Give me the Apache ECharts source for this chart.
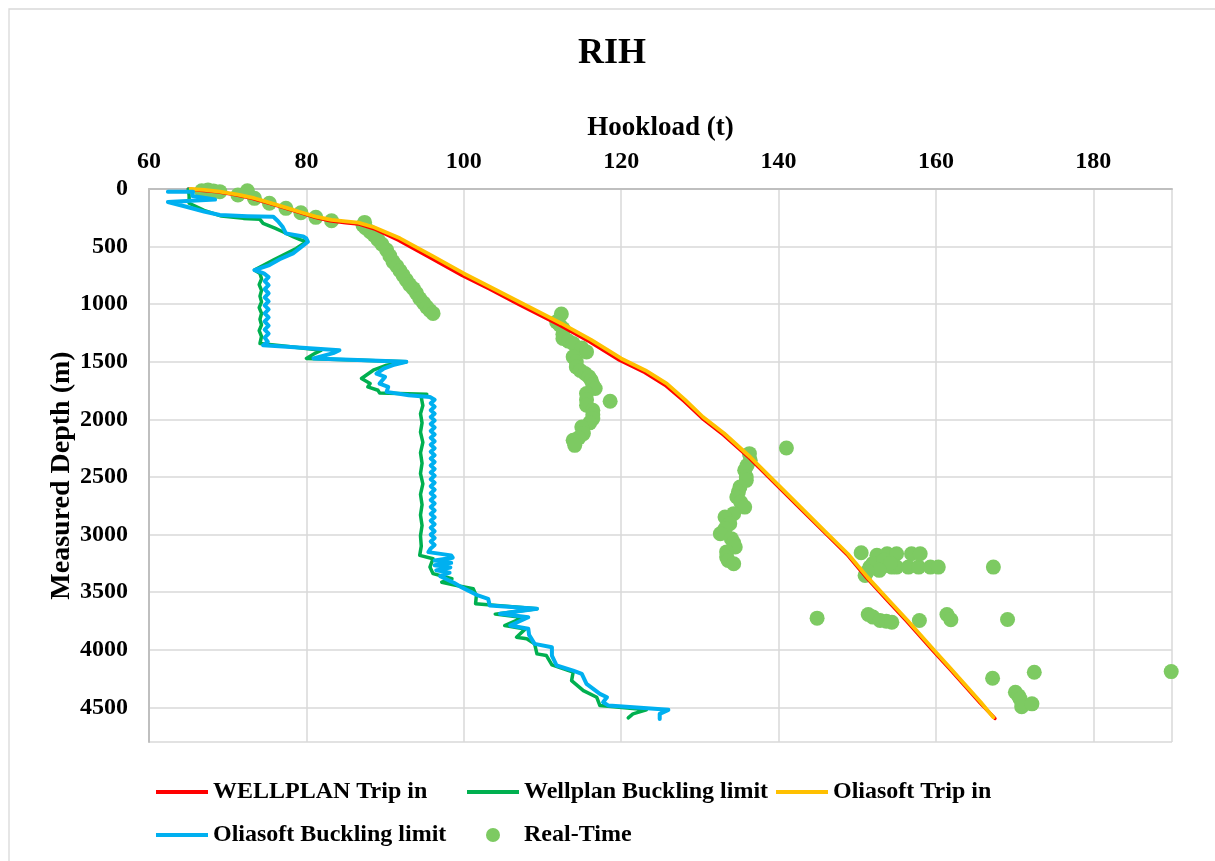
<!DOCTYPE html>
<html>
<head>
<meta charset="utf-8">
<script src="https://cdn.jsdelivr.net/npm/echarts@6/dist/echarts.min.js"></script>
<style>html,body{margin:0;padding:0;background:#fff;}#chart{width:1215px;height:861px;}</style>
</head>
<body>
<div id="chart"></div>
<script>
// ---- Data (Hookload t, Measured Depth m) ----
const xTicks = [60, 80, 100, 120, 140, 160, 180];
const depthTicks = [0, 500, 1000, 1500, 2000, 2500, 3000, 3500, 4000, 4500];
const seriesNames = ['WELLPLAN Trip in', 'Wellplan Buckling limit', 'Oliasoft Trip in', 'Oliasoft Buckling limit', 'Real-Time'];

const wellplanTripIn = [[65.0,0],[66.5,10],[68.7,25],[71.0,50],[73.2,82],[75.2,122],[77.3,166],[79.2,205],[81.1,245],[83.0,276],[85.0,292],[86.6,303],[88.6,345],[91.7,445],[95.8,598],[99.8,750],[103.2,866],[107.0,1002],[112.2,1183],[116.0,1326],[119.8,1486],[123.0,1592],[125.6,1703],[128.0,1842],[130.3,1990],[133.0,2135],[136.3,2335],[139.5,2552],[142.7,2768],[145.7,2970],[148.7,3172],[151.2,3375],[153.7,3561],[156.3,3752],[159.7,4012],[161.8,4170],[163.9,4330],[165.6,4460],[167.5,4595]];

const oliasoftTripIn = [[65.3,0],[67.0,8],[69.0,22],[71.3,48],[73.4,80],[75.3,118],[77.4,162],[79.3,202],[81.2,240],[83.2,268],[85.0,281],[86.6,292],[88.6,332],[91.9,428],[96.0,580],[100.0,733],[103.3,849],[107.2,985],[112.4,1167],[116.2,1310],[120.0,1471],[123.1,1575],[125.8,1689],[128.1,1828],[130.4,1979],[133.1,2122],[136.4,2326],[139.6,2545],[142.8,2761],[145.8,2965],[148.8,3166],[151.3,3369],[153.8,3555],[156.4,3745],[159.8,4006],[161.9,4165],[164.0,4325],[165.7,4455],[167.3,4586]];

const wellplanBuckling = [[65,0],[65.1,60],[65.1,124],[67,185],[69.2,235],[72,255],[74.1,263],[74.5,298],[76,340],[77,371],[78.3,414],[79.2,440],[80,458],[78.7,516],[77,575],[75.8,617],[74.3,670],[73.4,704],[74.1,733],[74.3,780],[74.0,830],[74.3,880],[74.1,930],[74.3,980],[74.0,1030],[74.3,1080],[74.1,1130],[74.3,1180],[74.0,1230],[74.3,1280],[74.1,1341],[78,1370],[81.9,1399],[81,1430],[80,1471],[86,1485],[92.7,1500],[90.2,1529],[88.5,1573],[87,1645],[88.1,1689],[87.8,1718],[89.1,1747],[89.3,1770],[95.3,1782],[94.6,1810],[94.8,1880],[94.5,1950],[94.7,2030],[94.5,2110],[94.8,2200],[94.5,2290],[94.7,2380],[94.5,2470],[94.8,2560],[94.5,2650],[94.7,2740],[94.5,2830],[94.7,2920],[94.5,3010],[94.6,3100],[94.4,3180],[96.1,3209],[95.7,3282],[96.1,3339],[98.5,3383],[97.2,3413],[99.1,3441],[101.2,3470],[101.6,3530],[101.5,3600],[109.3,3644],[104,3690],[107.5,3720],[105.2,3790],[107.8,3820],[106.7,3890],[108,3904],[109,3948],[109.3,4035],[110.5,4050],[111.2,4130],[113.9,4194],[113.7,4267],[115.2,4354],[116.9,4412],[117.3,4484],[123.2,4521],[121.5,4556],[120.9,4591]];

const oliasoftBuckling = [[62.4,23],[65.6,23],[65.5,60],[68.4,92],[62.4,113],[64.5,150],[67,195],[69,226],[72.5,236],[75.8,241],[76.4,280],[77,330],[77.4,385],[79.6,412],[80,430],[80.2,458],[79.6,490],[78.3,559],[76.6,610],[75.3,660],[73.4,704],[74.6,733],[75.2,765],[74.7,800],[75.2,835],[74.7,870],[75.2,905],[74.7,940],[75.2,975],[74.7,1010],[75.2,1045],[74.7,1080],[75.2,1115],[74.7,1150],[75.2,1185],[74.7,1220],[75.2,1255],[74.7,1290],[75.1,1325],[74.5,1356],[79,1375],[84.2,1399],[83.4,1425],[80.9,1471],[86.5,1485],[92.7,1500],[91,1529],[89.8,1560],[88.9,1602],[90,1631],[89.3,1689],[90.4,1718],[90.2,1761],[93,1790],[95.7,1805],[96.3,1830],[95.8,1860],[96.3,1890],[95.8,1920],[96.3,1950],[95.8,1980],[96.3,2010],[95.8,2040],[96.3,2070],[95.8,2100],[96.3,2130],[95.8,2160],[96.3,2190],[95.8,2220],[96.3,2250],[95.8,2280],[96.3,2310],[95.8,2340],[96.3,2370],[95.8,2400],[96.3,2430],[95.8,2460],[96.3,2490],[95.8,2520],[96.3,2550],[95.8,2580],[96.3,2610],[95.8,2640],[96.3,2670],[95.8,2700],[96.3,2730],[95.8,2760],[96.3,2790],[95.8,2820],[96.3,2850],[95.8,2880],[96.3,2910],[95.8,2940],[96.3,2970],[95.8,3000],[96.3,3030],[95.8,3060],[96.3,3090],[95.8,3120],[95.5,3152],[98.4,3180],[98.6,3200],[96.3,3225],[98.4,3245],[96.3,3265],[98.3,3285],[96.5,3310],[98.2,3330],[97,3360],[98.8,3420],[99.7,3456],[101.8,3528],[103.1,3557],[103.3,3615],[109.3,3644],[104.6,3687],[108.2,3717],[105.9,3789],[108.2,3817],[108.3,3870],[109,3948],[111.2,3977],[111.2,4050],[111.8,4136],[113.9,4180],[115,4209],[115.6,4295],[117.3,4382],[118.2,4412],[117.7,4455],[118.4,4484],[126,4521],[124.9,4556],[124.9,4600]];

const realTime = [[66.7,15],[67.5,8],[68.2,18],[69,23],[71.3,52],[72.5,15],[73.4,81],[75.3,124],[77.4,168],[79.3,206],[81.2,246],[83.2,275],
[87.4,290],[87.2,315],[87.5,335],[88.1,370],[88.6,400],[89.1,440],[89.6,480],[90.2,530],[90.6,580],[91,630],[91.5,670],[91.9,710],[92.3,750],[92.7,790],[93.1,830],[93.6,865],[94,905],[94.4,950],[94.9,990],[95.3,1025],[95.7,1055],[96.1,1080],
[112.4,1085],[111.8,1153],[112.2,1180],[112.6,1211],[112.6,1260],[112.6,1297],[113.3,1320],[113.9,1341],[115,1380],[115.6,1414],[113.9,1457],[114.3,1500],[114.3,1544],[114.8,1575],[115.4,1602],[115.9,1630],[116.2,1660],[116.4,1700],[116.7,1732],[115.6,1776],[115.6,1830],[115.6,1877],[116.4,1920],[116.4,1960],[116.4,1993],[116,2030],[115,2066],[115.2,2123],[114.6,2160],[113.9,2181],[114.1,2225],[118.6,1842],
[136.3,2297],[136.4,2355],[136,2400],[135.7,2442],[135.9,2500],[135.9,2529],[135.1,2587],[134.9,2630],[134.7,2674],[135.2,2720],[135.7,2761],[134.3,2818],[133.2,2847],[133.8,2905],[133.2,2950],[132.6,2992],[134,3035],[134.3,3070],[134.5,3108],[133.4,3150],[133.4,3195],[133.6,3225],[134.3,3253],[141,2248],
[150.5,3157],[151,3354],[151.6,3282],[152.5,3180],[153.1,3282],[153.8,3166],[154.4,3282],[155,3166],[155,3282],[156.5,3282],[156.9,3166],[157.8,3282],[158,3166],[159.3,3282],[160.3,3282],[167.3,3282],[152,3250],[153.4,3220],[154.2,3250],[152.8,3310],[151.3,3320],
[144.9,3725],[151.4,3693],[152,3716],[152.9,3745],[153.7,3752],[154.4,3760],[157.9,3745],[161.4,3693],[161.9,3739],[169.1,3737],
[167.2,4247],[172.5,4195],[189.9,4189],[170.1,4368],[170.5,4400],[170.7,4426],[170.9,4493],[172.2,4469]];

// ---- Chart ----
const FONT = "'Liberation Serif', 'Times New Roman', serif";
const colors = ['#ff0000', '#00b050', '#ffc000', '#00b0f0', '#7dca62'];
const chart = echarts.init(document.getElementById('chart'), null, {renderer: 'canvas'});

const rowCenters = [792, 835];
const legendPos = [
  {left: 156, row: 0},
  {left: 467, row: 0},
  {left: 776, row: 0},
  {left: 156, row: 1},
  {left: 486, row: 1}
];
const legends = seriesNames.map((n, i) => {
  const isDot = i === 4;
  const h = isDot ? 14 : 4;
  return {
    data: [{name: n, icon: isDot ? 'circle' : 'rect'}],
    left: legendPos[i].left, top: rowCenters[legendPos[i].row] - 12,
    padding: 0, itemWidth: 52, itemHeight: h, itemGap: 0,
    selectedMode: false,
    textStyle: {fontFamily: FONT, fontSize: 24, fontWeight: 'bold', color: '#000'}
  };
});

const lineSeries = (name, data, color, width) => ({
  name, type: 'line', data, showSymbol: false, symbol: 'none',
  lineStyle: {color, width, cap: 'round', join: 'round'}, itemStyle: {color}, smooth: false, animation: false
});

chart.setOption({
  animation: false,
  backgroundColor: '#fff',
  title: {
    text: 'RIH', left: 578, top: 36, padding: 0,
    textStyle: {fontFamily: FONT, fontSize: 36, fontWeight: 'bold', color: '#000'}
  },
  graphic: [{type: 'rect', shape: {x: 9, y: 9, width: 1230, height: 880},
    style: {fill: 'none', stroke: '#d9d9d9', lineWidth: 1.3}, silent: true}],
  legend: legends,
  grid: {left: 149, top: 189, right: 43, bottom: 119, containLabel: false},
  xAxis: {
    type: 'value', position: 'top', min: xTicks[0], max: 190, interval: 20,
    name: 'Hookload (t)', nameLocation: 'middle', nameGap: 47, nameMoveOverlap: false,
    nameTextStyle: {fontFamily: FONT, fontSize: 27, fontWeight: 'bold', color: '#000'},
    axisLine: {show: true, lineStyle: {color: '#bfbfbf', width: 2}},
    axisTick: {show: false},
    axisLabel: {showMaxLabel: false, margin: 15, fontFamily: FONT, fontSize: 24, fontWeight: 'bold', color: '#000',
      formatter: v => xTicks.indexOf(v) >= 0 ? String(v) : ''},
    splitLine: {show: true, lineStyle: {color: '#d9d9d9', width: 1.5}}
  },
  yAxis: {
    type: 'value', inverse: true, min: depthTicks[0], max: 4800, interval: 500,
    name: 'Measured Depth (m)', nameLocation: 'middle', nameGap: 73, nameRotate: 90, nameMoveOverlap: false,
    nameTextStyle: {fontFamily: FONT, fontSize: 28, fontWeight: 'bold', color: '#000', padding: [0, 20, 0, 0]},
    axisLine: {show: true, onZero: false, lineStyle: {color: '#bfbfbf', width: 2}},
    axisTick: {show: false},
    axisLabel: {showMaxLabel: false, margin: 21, fontFamily: FONT, fontSize: 24, fontWeight: 'bold', color: '#000',
      formatter: v => depthTicks.indexOf(v) >= 0 ? String(v) : ''},
    splitLine: {show: true, lineStyle: {color: '#d9d9d9', width: 1.5}}
  },
  series: [
    lineSeries(seriesNames[0], wellplanTripIn, colors[0], 3.5),
    lineSeries(seriesNames[1], wellplanBuckling, colors[1], 3.5),
    lineSeries(seriesNames[2], oliasoftTripIn, colors[2], 3.8),
    lineSeries(seriesNames[3], oliasoftBuckling, colors[3], 4),
    {name: seriesNames[4], type: 'scatter', data: realTime, symbol: 'circle', symbolSize: 15,
     itemStyle: {color: colors[4], opacity: 1}, animation: false}
  ]
});
</script>
</body>
</html>
